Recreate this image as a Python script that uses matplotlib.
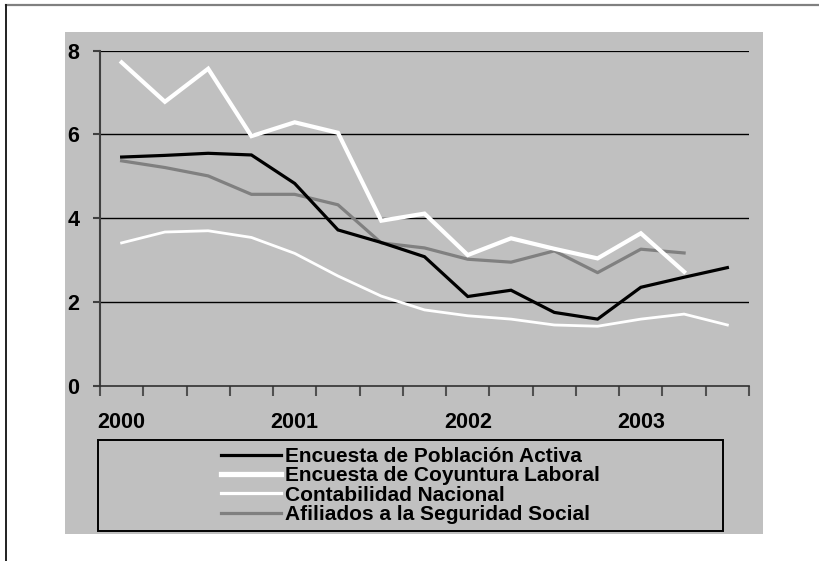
import matplotlib
matplotlib.use('Agg')
import matplotlib.pyplot as plt
from matplotlib.patches import Rectangle
from matplotlib.lines import Line2D

plt.rcParams['font.family'] = ['Liberation Sans', 'DejaVu Sans']
plt.rcParams['font.weight'] = 'bold'

#trimestres desde 2000-I hasta 2003-III
trimestres = ['2000-I', '2000-II', '2000-III', '2000-IV',
              '2001-I', '2001-II', '2001-III', '2001-IV',
              '2002-I', '2002-II', '2002-III', '2002-IV',
              '2003-I', '2003-II', '2003-III']
anios = ['2000', '2001', '2002', '2003']

#tasas de variacion del empleo (%)
epa = [5.46, 5.50, 5.55, 5.51, 4.83, 3.72, 3.42, 3.08, 2.13, 2.28, 1.75, 1.59, 2.35, 2.59, 2.82]
ecl = [7.72, 6.78, 7.57, 5.96, 6.29, 6.04, 3.94, 4.11, 3.12, 3.52, 3.27, 3.04, 3.64, 2.72]
cn = [3.41, 3.67, 3.70, 3.54, 3.16, 2.62, 2.14, 1.81, 1.67, 1.59, 1.45, 1.42, 1.59, 1.71, 1.45]
afiliados = [5.37, 5.21, 5.01, 4.57, 4.57, 4.32, 3.41, 3.29, 3.02, 2.95, 3.22, 2.70, 3.26, 3.17]

nombres = ['Encuesta de Población Activa',
           'Encuesta de Coyuntura Laboral',
           'Contabilidad Nacional',
           'Afiliados a la Seguridad Social']

W, H = 820, 561
fig = plt.figure(figsize=(W/100, H/100), dpi=100)
fig.patch.set_facecolor('white')

gris = '#c0c0c0'

#fondo gris del grafico
fig.patches.append(Rectangle((65/W, 1-534/H), 698/W, 502/H, transform=fig.transFigure,
                             facecolor=gris, edgecolor='none', zorder=0))
#lineas de marco arriba e izquierda
fig.lines.append(Line2D([6/W, 1], [1-5/H, 1-5/H], transform=fig.transFigure,
                        color='#808080', lw=1.6))
fig.lines.append(Line2D([6/W, 6/W], [0, 1-5/H], transform=fig.transFigure,
                        color='#202020', lw=1.4))

ax = fig.add_axes([100/W, 1-385.7/H, 649/W, 335/H])
ax.set_zorder(3)
ax.patch.set_alpha(0)

x = list(range(len(trimestres)))
l1, = ax.plot(x[:len(epa)], epa, color='black', lw=2.3, solid_joinstyle='miter', zorder=5)
l2, = ax.plot(x[:len(ecl)], ecl, color='white', lw=3.0, solid_joinstyle='miter', zorder=4)
l3, = ax.plot(x[:len(cn)], cn, color='white', lw=2.0, zorder=3)
l4, = ax.plot(x[:len(afiliados)], afiliados, color='#808080', lw=2.3, zorder=3)

ax.set_xlim(-0.5, len(trimestres) - 0.5)
ax.set_ylim(0, 8)

#lineas de rejilla horizontales
for v in [2, 4, 6, 8]:
    ax.axhline(v, color='black', lw=1.0 if v < 8 else 1.6, zorder=1)

for s in ['top', 'right']:
    ax.spines[s].set_visible(False)
ax.spines['left'].set_color('#404040')
ax.spines['left'].set_linewidth(1.5)
ax.spines['bottom'].set_color('#303030')
ax.spines['bottom'].set_linewidth(1.2)

ax.set_yticks([0, 2, 4, 6, 8])
ax.set_yticklabels(['0', '2', '4', '6', '8'])
ax.tick_params(axis='y', length=5, width=1.5, color='#404040', pad=10, labelsize=15.5)

#marcas en los limites de cada trimestre, etiquetas del anio en el primer trimestre
ax.set_xticks([i - 0.5 for i in range(len(trimestres) + 1)])
ax.set_xticklabels([])
ax.tick_params(axis='x', which='major', length=7, width=1.5, color='#505050')
ax.set_xticks([trimestres.index(a + '-I') for a in anios], minor=True)
ax.set_xticklabels(anios, minor=True)
ax.tick_params(axis='x', which='minor', length=0, pad=19, labelsize=15.5)

#caja de la leyenda
fig.patches.append(Rectangle((98/W, 1-531/H), 625/W, 91/H, transform=fig.transFigure,
                             facecolor=gris, edgecolor='black', lw=1.4, zorder=1))
h1 = Line2D([], [], color='black', lw=2.3)
h2 = Line2D([], [], color='white', lw=3.8)
h3 = Line2D([], [], color='white', lw=2.3)
h4 = Line2D([], [], color='#808080', lw=2.3)
leg = fig.legend([h1, h2, h3, h4], nombres, loc='center',
                 bbox_to_anchor=(410.5/W, 1-485.5/H), frameon=False,
                 fontsize=15, handlelength=2.9, handletextpad=0.2,
                 labelspacing=0.02, borderpad=0.2)
leg.set_zorder(4)

fig.savefig('out.png', dpi=100)
